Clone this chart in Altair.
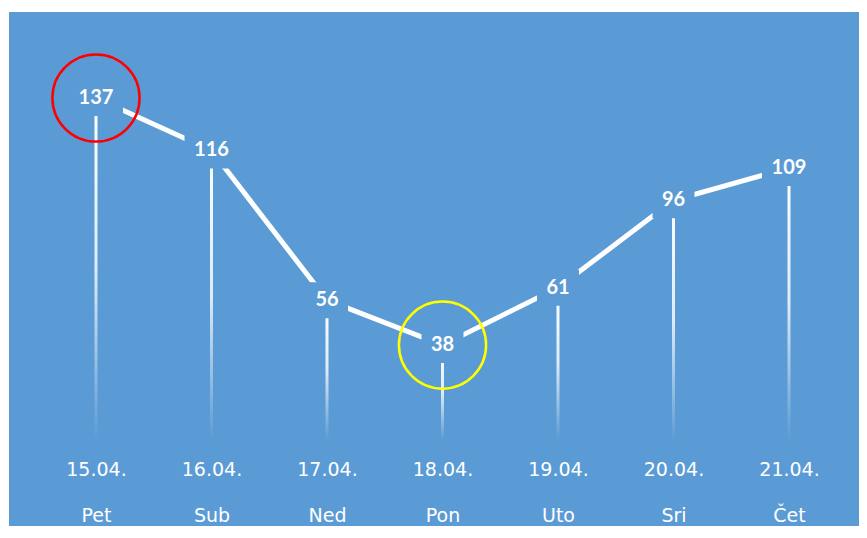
import altair as alt
import pandas as pd
import json

dates = ["15.04.", "16.04.", "17.04.", "18.04.", "19.04.", "20.04.", "21.04."]
days = ["Pet", "Sub", "Ned", "Pon", "Uto", "Sri", "Čet"]
values = [137, 116, 56, 38, 61, 96, 109]
ring_colors = {137: "#FF0000", 38: "#FFFF00"}

BG = "#5B9BD5"
FONT = "Lato"
AXFONT = "DejaVu Sans"

df = pd.DataFrame({"i": list(range(len(values))), "date": dates, "day": days, "value": values})
df["digits"] = df["value"].astype(str).str.len()
df["ring"] = df["value"].map(ring_colors)

x_enc = alt.X(
    "i:Q",
    scale=alt.Scale(domain=[-0.7532, 6.606], nice=False, zero=False, padding=0),
    axis=alt.Axis(
        values=list(range(len(values))),
        labelExpr=f"[{json.dumps(dates)}[datum.value], {json.dumps(days, ensure_ascii=False)}[datum.value]]",
        domain=False, ticks=False, grid=False, title=None,
        offset=-86, labelPadding=20, labelBaseline="top",
        labelColor="white", labelFont=AXFONT, labelFontSize=19,
        labelLineHeight=46, labelAlign="center", labelOverlap=False, labelFlush=False,
    ),
)
y_scale = alt.Scale(domain=[-34.47, 171.47], nice=False, zero=False, padding=0)
y_enc = alt.Y("value:Q", scale=y_scale, axis=None)

base = alt.Chart(df)

grad = alt.Gradient(
    gradient="linear",
    stops=[
        alt.GradientStop(color="rgba(255,255,255,1)", offset=0),
        alt.GradientStop(color="rgba(255,255,255,0.8)", offset=0.5),
        alt.GradientStop(color="rgba(255,255,255,0)", offset=1),
    ],
    x1=0, x2=0, y1=0, y2=1,
)

drops = base.mark_bar(width=3, color=grad).encode(x=x_enc, y=y_enc)

line = base.mark_line(color="white", strokeWidth=5).encode(x=x_enc, y=y_enc)

mask3 = base.transform_filter("datum.digits >= 3").mark_rect(
    color=BG, xOffset=-27, x2Offset=27, yOffset=-18, y2Offset=18
).encode(x=x_enc, x2=alt.X2("i:Q"), y=y_enc, y2=alt.Y2("value:Q"))

mask2 = base.transform_filter("datum.digits < 3").mark_rect(
    color=BG, xOffset=-21, x2Offset=21, yOffset=-18, y2Offset=18
).encode(x=x_enc, x2=alt.X2("i:Q"), y=y_enc, y2=alt.Y2("value:Q"))

labels = base.mark_text(
    color="white", font=FONT, fontWeight="bold", fontSize=20, baseline="middle", align="center"
).encode(x=x_enc, y=y_enc, text="value:Q")

rings = base.transform_filter("isValid(datum.ring)").mark_point(
    shape="circle", size=7600, filled=False, strokeWidth=2.5, opacity=1
).encode(x=x_enc, y=y_enc, stroke=alt.Stroke("ring:N", scale=None))

chart = alt.layer(drops, line, mask3, mask2, labels, rings).properties(
    width=850, height=514,
    background="white",
    padding={"left": 1, "top": 4, "right": 0, "bottom": 0},
    autosize=alt.AutoSizeParams(type="none"),
).configure_view(fill=BG, stroke=None)

chart.save("out.html", embed_options={"renderer": "svg", "actions": False})
